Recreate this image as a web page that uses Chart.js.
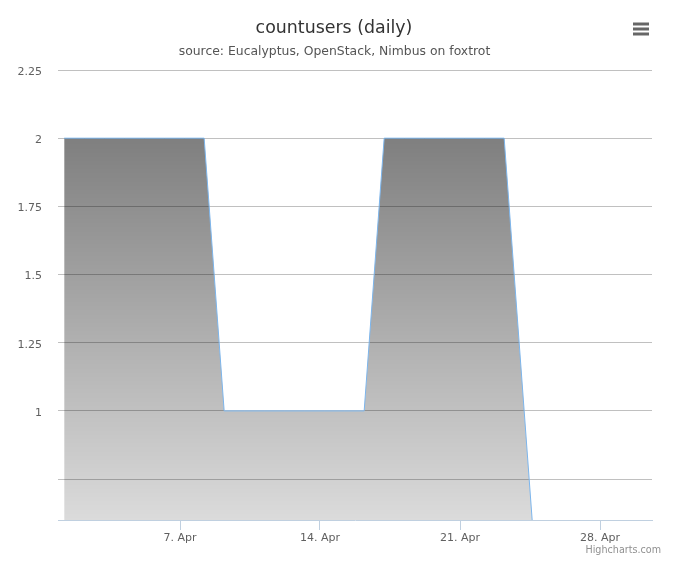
<!DOCTYPE html>
<html>
<head>
<meta charset="utf-8">
<script src="https://cdn.jsdelivr.net/npm/chart.js@4/dist/chart.umd.min.js"></script>
<style>
  html, body { margin: 0; padding: 0; background: #fff; }
  #wrap { width: 680px; height: 566px; position: relative; }
</style>
</head>
<body>
<div id="wrap"><canvas id="c" width="680" height="566"></canvas></div>
<script>
// ---- data ----
const titleText = 'countusers (daily)';
const subtitleText = 'source: Eucalyptus, OpenStack, Nimbus on foxtrot';
const aprilDays = [1,2,3,4,5,6,7,8,9,10,11,12,13,14,15,16,17,18,19,20,21,22,23,24,25,26,27,28,29,30];
const countUsers = [2,2,2,2,2,2,2,2,1,1,1,1,1,1,1,1,2,2,2,2,2,2,2,1,0,0,0,0,0,0];
const sampleHourOffset = 5; // samples taken at 05:00 UTC
const xTickDays = [7,14,21,28];
const xTickLabels = ['7. Apr','14. Apr','21. Apr','28. Apr'];
const yTickValues = [0.75,1,1.25,1.5,1.75,2,2.25];
const yTickLabels = ['','1','1.25','1.5','1.75','2','2.25'];

const points = aprilDays.map((d, i) => ({ x: d + sampleHourOffset / 24, y: countUsers[i] }));

const FONT = "'DejaVu Sans', sans-serif";

const decor = {
  id: 'decor',
  afterDraw(chart) {
    const ctx = chart.ctx;
    ctx.save();
    ctx.textAlign = 'center';
    ctx.textBaseline = 'middle';
    ctx.fillStyle = '#333333';
    ctx.font = "17.4px " + FONT;
    ctx.fillText(titleText, 334, 28);
    ctx.fillStyle = '#555555';
    ctx.font = "12.4px " + FONT;
    ctx.fillText(subtitleText, 334.5, 51.5);
    // credits
    ctx.textAlign = 'right';
    ctx.fillStyle = '#909090';
    ctx.font = "9.6px " + FONT;
    ctx.fillText('Highcharts.com', 661, 550);
    // menu icon
    ctx.strokeStyle = '#666666';
    ctx.lineWidth = 3;
    ctx.lineCap = 'butt';
    [24, 29, 34].forEach(yy => {
      ctx.beginPath();
      ctx.moveTo(633, yy);
      ctx.lineTo(649, yy);
      ctx.stroke();
    });
    ctx.restore();
  }
};

new Chart(document.getElementById('c'), {
  type: 'line',
  data: {
    datasets: [{
      data: points,
      borderColor: '#7cb5ec',
      borderWidth: 1,
      pointRadius: 0,
      pointHoverRadius: 0,
      tension: 0,
      fill: 'start',
      backgroundColor: (ctx) => {
        const chart = ctx.chart;
        const area = chart.chartArea;
        if (!area) return 'rgba(0,0,0,0.3)';
        const yScale = chart.scales.y;
        const top = yScale.getPixelForValue(Math.max(...countUsers));
        const g = chart.ctx.createLinearGradient(0, top, 0, area.bottom);
        g.addColorStop(0, 'rgba(0,0,0,0.5)');
        g.addColorStop(1, 'rgba(0,0,0,0.14)');
        return g;
      }
    }]
  },
  options: {
    responsive: false,
    animation: false,
    events: [],
    layout: { padding: { top: 70, right: 28, left: 0, bottom: 0 } },
    plugins: {
      legend: { display: false },
      tooltip: { enabled: false },
      title: { display: false }
    },
    scales: {
      x: {
        type: 'linear',
        min: 0.9,
        max: 30.6,
        afterBuildTicks: s => { s.ticks = xTickDays.map(v => ({ value: v })); },
        afterFit: s => { s.height = 46; },
        ticks: {
          autoSkip: false,
          maxRotation: 0,
          padding: 2,
          color: '#606060',
          font: { family: FONT, size: 11 },
          callback: (v) => { const i = xTickDays.indexOf(v); return i >= 0 ? xTickLabels[i] : ''; }
        },
        grid: { drawOnChartArea: false, drawTicks: true, tickLength: 10, color: '#c0d0e0', lineWidth: 1 },
        border: { display: true, color: '#c0d0e0', width: 1 }
      },
      y: {
        min: 0.6,
        max: 2.25,
        afterBuildTicks: s => { s.ticks = yTickValues.map(v => ({ value: v })); },
        afterFit: s => { s.width = 58; },
        ticks: {
          padding: 16,
          labelOffset: 2,
          color: '#606060',
          font: { family: FONT, size: 11 },
          callback: (v) => { const i = yTickValues.indexOf(v); return i >= 0 ? yTickLabels[i] : ''; }
        },
        grid: { color: '#c0c0c0', lineWidth: 1, drawTicks: false },
        border: { display: false }
      }
    }
  },
  plugins: [decor]
});
</script>
</body>
</html>
